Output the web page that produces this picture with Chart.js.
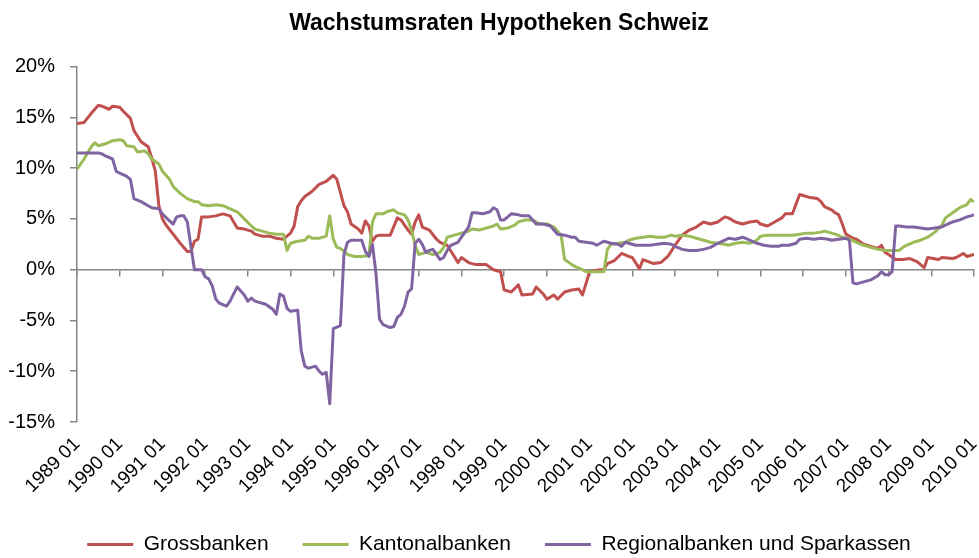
<!DOCTYPE html>
<html>
<head>
<meta charset="utf-8">
<script src="https://cdn.jsdelivr.net/npm/chart.js"></script>
<style>
  html, body { margin: 0; padding: 0; background: #fff; }
</style>
</head>
<body>
<canvas id="chart" width="979" height="558"></canvas>
<script>
// months counted from 1989 01 (= 0) up to 2010 01 (= 252)
const tickLabels = ['1989 01', '1990 01', '1991 01', '1992 01', '1993 01', '1994 01', '1995 01',
  '1996 01', '1997 01', '1998 01', '1999 01', '2000 01', '2001 01', '2002 01', '2003 01',
  '2004 01', '2005 01', '2006 01', '2007 01', '2008 01', '2009 01', '2010 01'];

const seriesNames = ['Grossbanken', 'Kantonalbanken', 'Regionalbanken und Sparkassen'];

const grossMonths = [0,2,4,6,7,9,10,12,13,15,
  16,18,20,21,22,23,24,25,27,29,
  31,32,33,34,35,37,39,41,43,45,
  47,49,50,52,54,56,58,60,61,62,
  63,64,66,68,70,72,73,75,76,77,
  79,80,81,82,83,84,85,88,90,91,
  93,94,95,96,97,99,101,102,104,106,
  107,108,110,112,115,117,119,120,122,124,
  125,128,129,131,132,134,135,137,139,141,
  142,144,147,148,149,151,153,155,156,158,
  159,162,164,166,168,170,172,174,176,178,
  180,182,183,185,187,189,191,192,194,196,
  198,199,201,203,204,206,208,209,210,212,
  213,214,215,216,218,219,221,223,225,226,
  227,228,230,232,234,236,237,238,239,242,
  243,246,247,249,250,252];
const grossValues = [14.4,14.5,15.4,16.2,16.1,15.8,16.1,16.0,15.6,14.9,
  13.7,12.6,12.1,11.0,9.7,6.3,5.0,4.4,3.5,2.6,
  1.8,1.8,2.8,3.0,5.2,5.2,5.3,5.5,5.3,4.1,
  4.0,3.8,3.5,3.3,3.3,3.1,3.0,3.6,4.3,6.2,
  6.8,7.2,7.7,8.4,8.7,9.3,8.9,6.3,5.7,4.5,
  4.0,3.6,4.8,4.3,2.8,3.3,3.4,3.4,5.1,4.9,
  3.9,3.5,4.7,5.4,4.2,3.9,3.0,2.7,2.4,1.3,
  0.7,1.2,0.7,0.5,0.5,0.0,-0.2,-2.0,-2.2,-1.5,
  -2.5,-2.4,-1.7,-2.4,-2.9,-2.5,-2.9,-2.2,-2.0,-1.9,
  -2.5,-0.2,0.0,0.0,0.6,0.9,1.6,1.3,1.2,0.1,
  1.0,0.6,0.7,1.3,2.4,3.4,3.9,4.2,4.7,4.5,
  4.7,5.2,5.1,4.7,4.5,4.7,4.8,4.5,4.3,4.7,
  5.1,5.5,5.5,7.4,7.3,7.1,7.0,6.7,6.2,5.9,
  5.6,5.4,4.5,3.5,3.1,3.0,2.5,2.3,2.1,2.4,
  1.7,1.5,1.0,1.0,1.1,0.8,0.5,0.2,1.2,1.0,
  1.2,1.1,1.2,1.6,1.3,1.5];

const kantonMonths = [0,2,4,5,6,8,10,12,13,14,
  16,17,19,20,21,23,24,26,27,29,
  31,33,34,35,37,39,41,43,45,47,
  49,50,52,54,56,58,59,60,62,64,
  65,66,68,70,71,72,73,74,76,78,
  80,82,83,84,86,87,89,90,92,93,
  94,95,96,98,100,102,103,104,106,108,
  110,111,113,115,117,118,119,121,123,124,
  126,128,130,132,134,136,137,139,140,142,
  143,148,149,150,152,154,155,157,159,161,
  163,165,167,168,170,172,174,176,178,180,
  182,183,185,187,189,191,192,194,196,198,
  199,201,203,205,207,209,210,212,213,215,
  217,219,221,223,225,227,228,231,232,233,
  235,237,239,241,243,244,246,248,250,251,
  252];
const kantonValues = [9.9,10.9,12.1,12.5,12.2,12.4,12.7,12.8,12.7,12.2,
  12.1,11.6,11.7,11.4,10.9,10.4,9.7,8.9,8.2,7.5,
  7.0,6.7,6.7,6.4,6.3,6.4,6.3,6.0,5.7,5.0,
  4.3,4.0,3.8,3.6,3.5,3.5,1.9,2.6,2.8,2.9,
  3.3,3.1,3.1,3.3,5.3,3.0,2.2,2.1,1.5,1.3,
  1.3,1.4,4.7,5.5,5.5,5.7,5.9,5.6,5.4,4.9,
  3.9,2.4,1.5,1.7,1.5,1.7,2.2,3.2,3.4,3.6,
  3.8,4.0,3.9,4.1,4.3,4.5,4.0,4.1,4.4,4.7,
  4.9,4.9,4.5,4.5,4.2,3.4,1.0,0.5,0.3,0.0,
  -0.2,-0.2,2.0,2.5,2.6,2.7,2.9,3.1,3.2,3.3,
  3.2,3.2,3.4,3.3,3.4,3.3,3.1,2.9,2.7,2.6,
  2.5,2.4,2.6,2.7,2.6,2.9,3.3,3.4,3.4,3.4,
  3.4,3.4,3.5,3.6,3.6,3.7,3.8,3.6,3.5,3.2,
  3.0,2.7,2.4,2.2,2.0,1.9,1.9,1.9,2.2,2.4,
  2.7,2.9,3.2,3.7,4.4,5.1,5.6,6.1,6.4,6.9,
  6.7];

const regioMonths = [0,2,4,6,7,8,10,11,12,14,
  15,16,18,20,21,23,24,26,27,28,
  29,30,31,32,33,35,36,37,38,39,
  40,42,43,45,46,47,48,49,50,52,
  53,55,56,57,58,59,60,62,63,64,
  65,67,68,69,70,71,72,74,75,76,
  77,79,80,81,82,83,84,85,86,88,
  89,90,91,92,93,94,95,96,97,98,
  99,100,101,102,103,104,105,107,108,110,
  111,112,114,116,117,118,119,120,121,122,
  124,125,127,128,129,131,133,135,137,139,
  140,141,143,145,146,148,150,152,153,154,
  155,157,159,161,163,165,167,168,170,172,
  174,176,178,180,182,183,185,187,189,191,
  193,195,197,198,200,202,203,205,207,209,
  211,212,214,216,217,218,219,221,223,225,
  226,227,228,229,230,231,233,235,237,239,
  241,243,244,246,248,250,252];
const regioValues = [11.5,11.5,11.5,11.5,11.4,11.2,10.9,9.7,9.5,9.2,
  8.9,7.0,6.7,6.3,6.1,6.0,5.5,4.8,4.5,5.2,
  5.3,5.3,4.7,2.3,0.0,0.0,-0.7,-0.9,-1.6,-2.9,
  -3.3,-3.6,-3.1,-1.7,-2.1,-2.5,-3.1,-2.8,-3.1,-3.3,
  -3.4,-3.9,-4.4,-2.4,-2.6,-3.8,-4.1,-4.0,-8.0,-9.5,
  -9.7,-9.5,-10.0,-10.3,-10.1,-13.2,-5.8,-5.5,1.5,2.7,
  2.9,2.9,2.9,1.8,1.3,2.5,-0.4,-4.9,-5.4,-5.7,
  -5.6,-4.7,-4.4,-3.6,-2.2,-1.9,2.6,3.0,2.5,1.7,
  1.9,2.0,1.5,1.0,1.2,1.9,2.4,2.7,3.2,4.2,
  5.6,5.6,5.5,5.7,6.1,5.9,4.9,4.9,5.2,5.5,
  5.4,5.3,5.3,4.9,4.5,4.5,4.3,3.5,3.4,3.2,
  3.2,2.8,2.7,2.6,2.4,2.8,2.6,2.5,2.3,2.7,
  2.6,2.4,2.4,2.4,2.5,2.6,2.5,2.3,2.0,1.9,
  1.9,2.0,2.2,2.6,2.9,3.1,3.0,3.2,2.9,2.6,
  2.4,2.3,2.3,2.4,2.4,2.6,3.0,3.1,3.0,3.1,
  3.0,2.9,3.0,3.1,2.9,-1.3,-1.4,-1.2,-1.0,-0.6,
  -0.2,-0.5,-0.5,-0.2,4.3,4.3,4.2,4.2,4.1,4.0,
  4.1,4.2,4.4,4.7,4.9,5.2,5.4];

const colors = ['#C0504D', '#9BBB59', '#8064A2'];
const axisGrey = '#868686';

Chart.defaults.font.family = '"Liberation Sans", Arial, sans-serif';
Chart.defaults.color = '#000';

function points(months, values) {
  return months.map((m, i) => ({ x: m, y: values[i] }));
}

function line(i, months, values) {
  return {
    label: seriesNames[i],
    data: points(months, values),
    borderColor: colors[i],
    backgroundColor: colors[i],
    borderWidth: 3,
    borderJoinStyle: 'round',
    pointRadius: 0,
    pointStyle: 'line',
    tension: 0,
    order: 2 - i
  };
}

new Chart(document.getElementById('chart'), {
  type: 'line',
  data: {
    datasets: [
      line(0, grossMonths, grossValues),
      line(1, kantonMonths, kantonValues),
      line(2, regioMonths, regioValues)
    ]
  },
  options: {
    responsive: false,
    animation: false,
    devicePixelRatio: 1,
    layout: { padding: { left: 24, right: 5, top: 0, bottom: -7 } },
    plugins: {
      title: {
        display: true,
        text: 'Wachstumsraten Hypotheken Schweiz',
        font: { size: 23, weight: 'bold' },
        color: '#000',
        padding: { top: 10, bottom: 29 }
      },
      legend: {
        position: 'bottom',
        labels: {
          usePointStyle: true,
          pointStyle: 'line',
          pointStyleWidth: 46,
          padding: 34,
          font: { size: 21 },
          color: '#000',
          sort: (a, b) => a.datasetIndex - b.datasetIndex
        }
      },
      tooltip: { enabled: false }
    },
    scales: {
      x: {
        type: 'linear',
        position: 'bottom',
        min: 0,
        max: 252,
        border: { display: false },
        grid: { display: false },
        ticks: {
          stepSize: 12,
          autoSkip: false,
          minRotation: 45,
          maxRotation: 45,
          padding: 3,
          font: { size: 19 },
          color: '#000',
          callback: v => tickLabels[v / 12]
        },
        afterFit(scale) {
          scale.height = 78;
          scale.paddingLeft = 0;
          scale.paddingRight = 0;
        }
      },
      x2: {
        type: 'linear',
        position: { y: 0 },
        min: 0,
        max: 252,
        border: { color: axisGrey, width: 1.5 },
        grid: { drawOnChartArea: false, drawTicks: true, tickLength: 6, color: axisGrey, lineWidth: 1.5 },
        ticks: { display: false, stepSize: 12 }
      },
      y: {
        min: -15,
        max: 20,
        border: { color: axisGrey, width: 1.5 },
        grid: { drawOnChartArea: false, drawTicks: true, tickLength: 7, color: axisGrey, lineWidth: 1.5 },
        ticks: {
          stepSize: 5,
          padding: 15,
          font: { size: 20 },
          color: '#000',
          callback: v => v + '%'
        },
        afterFit(scale) {
          scale.width = 53;
          // labels reach into the left padding, so do not clip them to the axis box
          scale._computeLabelArea = () => undefined;
        }
      }
    }
  }
});
</script>
</body>
</html>
